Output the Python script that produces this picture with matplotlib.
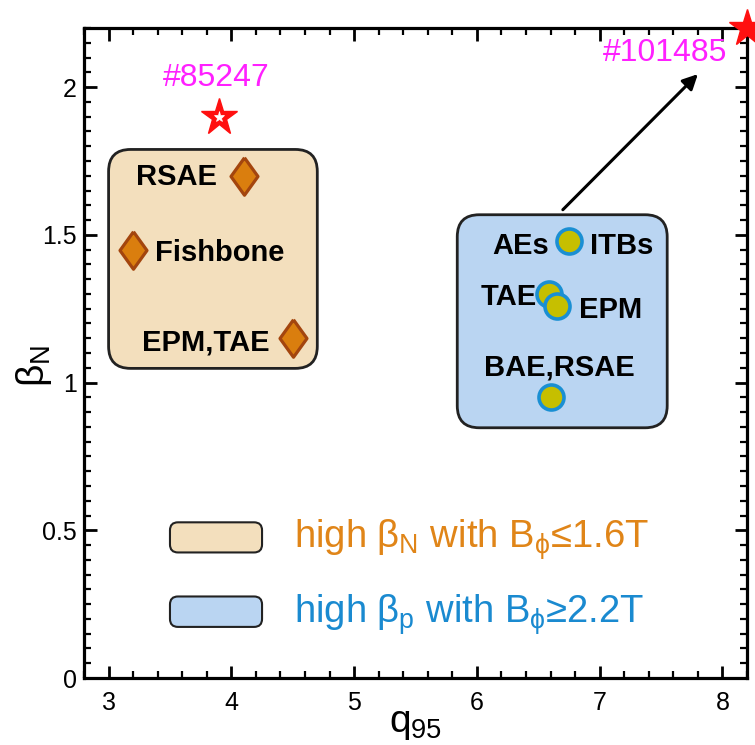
import matplotlib
matplotlib.use("Agg")
import matplotlib.pyplot as plt
from matplotlib.patches import FancyBboxPatch
from matplotlib.ticker import MultipleLocator

plt.rcParams['font.family'] = ['Liberation Sans', 'DejaVu Sans']
plt.rcParams['mathtext.fontset'] = 'custom'
plt.rcParams['mathtext.rm'] = 'Liberation Sans'
plt.rcParams['mathtext.it'] = 'Liberation Sans'
plt.rcParams['mathtext.bf'] = 'Liberation Sans:bold'
plt.rcParams['mathtext.fallback'] = 'stixsans'

# ---- data ----
low_field_modes = ["RSAE", "Fishbone", "EPM,TAE"]
low_field_q95 = [4.1, 3.2, 4.5]
low_field_betaN = [1.70, 1.45, 1.15]

high_field_modes = ["AEs ITBs", "TAE", "EPM", "BAE,RSAE"]
high_field_q95 = [6.75, 6.59, 6.65, 6.60]
high_field_betaN = [1.48, 1.30, 1.26, 0.95]

shot_labels = ["#85247", "#101485"]
shot_q95 = [3.9, 8.2]
shot_betaN = [1.9, 2.2]

legend_labels = [r"high $\beta_N$ with $B_\phi$≤1.6T",
                 r"high $\beta_p$ with $B_\phi$≥2.2T"]

xlim = (2.8, 8.2)
ylim = (0.0, 2.2)

TAN = "#f3dfbd"
BLUE = "#bad5f2"
ORANGE = "#e08518"
BLUE_TXT = "#1a8ad0"
MAGENTA = "#ff20ff"

fig = plt.figure(figsize=(7.55, 7.45), dpi=100)
ax = fig.add_axes([0.1113, 0.0899, 0.8781, 0.8725])
ax.set_xlim(*xlim)
ax.set_ylim(*ylim)

# aspect factor for round corners (pixels per x-unit / pixels per y-unit)
fig.canvas.draw()
bb = ax.get_window_extent()
px_x = bb.width / (xlim[1] - xlim[0])
px_y = bb.height / (ylim[1] - ylim[0])
asp = px_x / px_y

def rbox(x0, y0, x1, y1, fc, r_px, lw=2.0):
    p = FancyBboxPatch((x0, y0), x1 - x0, y1 - y0,
                       boxstyle=f"round,pad=0,rounding_size={r_px / px_x}",
                       mutation_aspect=asp, fc=fc, ec="#222222", lw=lw, zorder=1)
    ax.add_patch(p)

# group boxes
rbox(3.0, 1.048, 4.70, 1.789, TAN, 22)
rbox(5.84, 0.847, 7.55, 1.568, BLUE, 22)

# legend boxes
rbox(3.50, 0.425, 4.25, 0.527, TAN, 8, lw=1.5)
rbox(3.50, 0.173, 4.25, 0.276, BLUE, 8, lw=1.5)
ax.text(4.51, 0.442, legend_labels[0], color=ORANGE, fontsize=27.5, va='baseline', ha='left')
ax.text(4.51, 0.187, legend_labels[1], color=BLUE_TXT, fontsize=27.5, va='baseline', ha='left')

# diamonds
diamond = [(0, 1), (0.72, 0), (0, -1), (-0.72, 0), (0, 1)]
ax.plot(low_field_q95, low_field_betaN, ls='none', marker=diamond, ms=27,
        mfc="#da7e0e", mec="#a3450e", mew=2.3, zorder=3)

# circles
ax.plot(high_field_q95, high_field_betaN, ls='none', marker='o', ms=18,
        mfc="#c6bf00", mec="#1a8fd3", mew=2.6, zorder=3)

# mode labels
lbl_kw = dict(fontsize=21, fontweight='bold', va='baseline', color='black', zorder=4)
ax.text(3.88, 1.667, low_field_modes[0], ha='right', **lbl_kw)
ax.text(3.38, 1.410, low_field_modes[1], ha='left', **lbl_kw)
ax.text(4.31, 1.109, low_field_modes[2], ha='right', **lbl_kw)
ax.text(6.59, 1.435, "AEs", ha='right', **lbl_kw)
ax.text(6.92, 1.435, "ITBs", ha='left', **lbl_kw)
ax.text(6.49, 1.262, high_field_modes[1], ha='right', **lbl_kw)
ax.text(6.83, 1.218, high_field_modes[2], ha='left', **lbl_kw)
ax.text(6.67, 1.024, high_field_modes[3], ha='center', **lbl_kw)

# shot stars
ax.plot(shot_q95, shot_betaN, ls='none', marker='*', ms=28, mfc='#ff1010',
        mec='#ff1010', mew=1, clip_on=False, zorder=5)
ax.plot(shot_q95[:1], shot_betaN[:1], ls='none', marker='*', ms=8, mfc='white',
        mec='white', mew=0.5, zorder=6)
ax.text(3.88, 2.003, shot_labels[0], color=MAGENTA, fontsize=23, ha='center', va='baseline')
ax.text(8.04, 2.088, shot_labels[1], color=MAGENTA, fontsize=23, ha='right', va='baseline')

# arrow
ax.annotate("", xy=(7.80, 2.044), xytext=(6.70, 1.585),
            arrowprops=dict(arrowstyle="-|>,head_length=0.9,head_width=0.45",
                            color='black', lw=2.2, shrinkA=0, shrinkB=0), zorder=4)

# axes styling
for s in ax.spines.values():
    s.set_linewidth(2.3)
ax.xaxis.set_major_locator(MultipleLocator(1))
ax.xaxis.set_minor_locator(MultipleLocator(0.2))
ax.yaxis.set_major_locator(MultipleLocator(0.5))
ax.yaxis.set_minor_locator(MultipleLocator(0.05))
ax.set_yticks([0, 0.5, 1, 1.5, 2])
ax.set_yticklabels(["0", "0.5", "1", "1.5", "2"])
ax.tick_params(which='both', direction='in', top=True, right=True, width=2)
ax.tick_params(which='major', length=9, labelsize=18)
ax.tick_params(which='minor', length=5, width=1.6)
ax.tick_params(axis='x', which='major', pad=9)
ax.tick_params(axis='y', which='major', pad=5)

ax.set_xlabel(r"$q_{95}$", fontsize=28, labelpad=-6)
ax.set_ylabel(r"$\beta_N$", fontsize=28)
ax.yaxis.set_label_coords(-0.045, 0.48)

fig.savefig("out.png", dpi=100)
